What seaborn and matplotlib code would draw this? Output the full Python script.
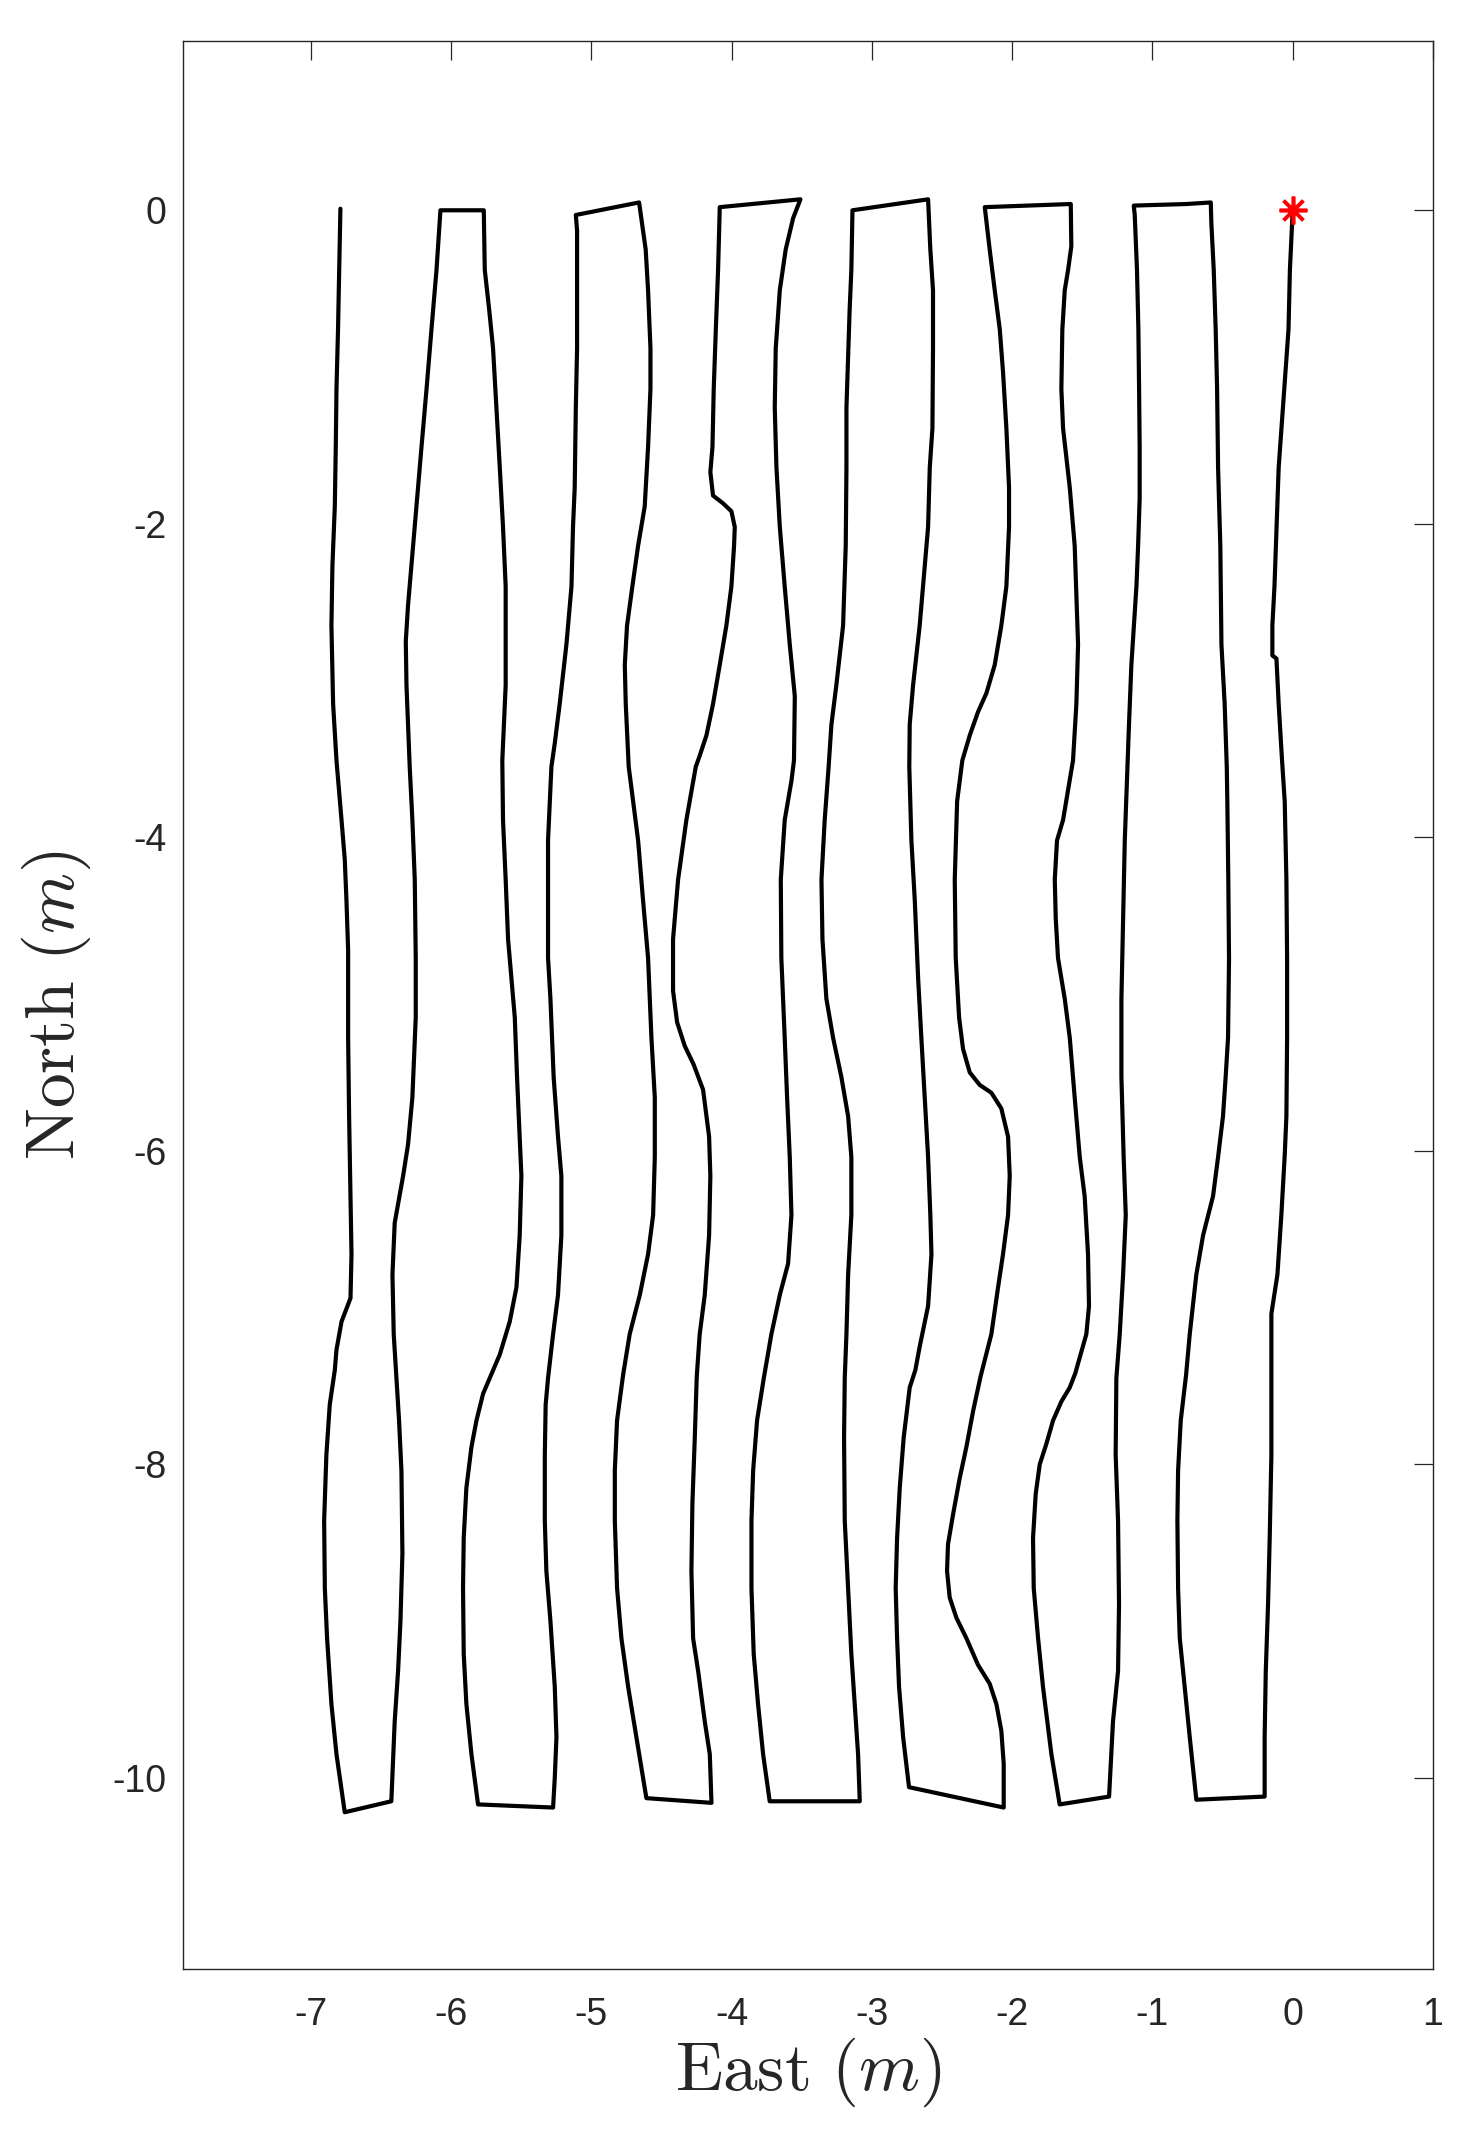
import numpy as np
import pandas as pd
import matplotlib
matplotlib.use("Agg")
import matplotlib.pyplot as plt
import seaborn as sns

# survey track, one list pair per pass (East, North in m)
leg01_e = [0.00, -0.02, -0.03, -0.06, -0.08, -0.10, -0.11, -0.12, -0.13, -0.145, -0.145, -0.116, -0.10, -0.076, -0.057, -0.045, -0.04, -0.04, -0.045, -0.057, -0.081, -0.109, -0.152, -0.152, -0.152, -0.164, -0.176, -0.192, -0.20, -0.20]
leg01_n = [0.00, -0.38, -0.76, -1.14, -1.39, -1.64, -1.89, -2.14, -2.40, -2.65, -2.84, -2.86, -3.15, -3.51, -3.77, -4.27, -4.77, -5.28, -5.78, -6.03, -6.41, -6.79, -7.04, -7.47, -7.94, -8.47, -8.90, -9.32, -9.74, -10.12]

leg02_e = [-0.687, -0.734, -0.77, -0.805, -0.817, -0.822, -0.817, -0.798, -0.76, -0.734, -0.687, -0.639, -0.568, -0.532, -0.497, -0.478, -0.461, -0.454, -0.459, -0.466, -0.47, -0.485, -0.508, -0.516, -0.532, -0.539, -0.549, -0.563, -0.58, -0.584]
leg02_n = [-10.14, -9.74, -9.42, -9.11, -8.79, -8.36, -8.04, -7.72, -7.43, -7.17, -6.79, -6.54, -6.29, -6.04, -5.78, -5.53, -5.28, -4.78, -4.27, -3.77, -3.55, -3.15, -2.77, -2.14, -1.64, -1.14, -0.76, -0.38, -0.08, 0.05]

leg03_e = [-0.758, -1.133, -1.126, -1.11, -1.10, -1.095, -1.091, -1.091, -1.102, -1.114, -1.15, -1.167, -1.178, -1.197, -1.209, -1.221, -1.221, -1.205, -1.19, -1.209, -1.233, -1.257, -1.262, -1.245, -1.238, -1.245, -1.281, -1.309]
leg03_n = [0.04, 0.03, -0.03, -0.38, -0.76, -1.14, -1.51, -1.84, -2.14, -2.40, -2.90, -3.28, -3.55, -4.02, -4.52, -5.03, -5.53, -6.04, -6.41, -6.79, -7.17, -7.45, -7.94, -8.36, -8.89, -9.32, -9.64, -10.12]

leg04_e = [-1.661, -1.72, -1.78, -1.815, -1.846, -1.851, -1.832, -1.803, -1.756, -1.708, -1.649, -1.589, -1.55, -1.471, -1.452, -1.459, -1.483, -1.518, -1.554, -1.589, -1.625, -1.673, -1.689, -1.696, -1.68, -1.637, -1.566, -1.542, -1.53, -1.554, -1.589, -1.637, -1.649, -1.642, -1.625, -1.601, -1.578, -1.582]
leg04_n = [-10.17, -9.85, -9.42, -9.11, -8.79, -8.47, -8.19, -8.00, -7.87, -7.72, -7.60, -7.51, -7.42, -7.17, -6.99, -6.66, -6.29, -6.04, -5.66, -5.28, -5.03, -4.77, -4.52, -4.27, -4.02, -3.89, -3.51, -3.15, -2.77, -2.14, -1.77, -1.39, -1.14, -0.76, -0.51, -0.38, -0.23, 0.04]

leg05_e = [-2.195, -2.16, -2.124, -2.088, -2.065, -2.041, -2.022, -2.022, -2.041, -2.077, -2.124, -2.183, -2.243, -2.302, -2.355, -2.392, -2.409, -2.402, -2.378, -2.35, -2.302, -2.231, -2.148, -2.077, -2.029, -2.017, -2.029, -2.065, -2.10, -2.148, -2.225, -2.278, -2.326, -2.374, -2.421, -2.457, -2.464, -2.445, -2.397, -2.326, -2.243, -2.16, -2.112, -2.077, -2.06, -2.06]
leg05_n = [0.02, -0.25, -0.51, -0.76, -1.03, -1.39, -1.77, -2.02, -2.40, -2.65, -2.90, -3.08, -3.20, -3.35, -3.51, -3.77, -4.27, -4.77, -5.15, -5.35, -5.50, -5.58, -5.63, -5.73, -5.91, -6.16, -6.41, -6.66, -6.87, -7.17, -7.44, -7.66, -7.89, -8.09, -8.32, -8.51, -8.68, -8.85, -8.98, -9.11, -9.28, -9.40, -9.53, -9.70, -9.91, -10.19]

leg06_e = [-2.735, -2.777, -2.806, -2.82, -2.83, -2.82, -2.801, -2.773, -2.73, -2.69, -2.659, -2.599, -2.575, -2.583, -2.599, -2.623, -2.647, -2.67, -2.694, -2.718, -2.733, -2.73, -2.706, -2.659, -2.623, -2.599, -2.587, -2.568, -2.564, -2.564, -2.583, -2.599]
leg06_n = [-10.06, -9.74, -9.42, -9.11, -8.79, -8.47, -8.15, -7.83, -7.51, -7.40, -7.25, -6.99, -6.66, -6.41, -6.04, -5.66, -5.28, -4.90, -4.40, -4.02, -3.55, -3.28, -3.03, -2.65, -2.27, -2.02, -1.64, -1.39, -0.88, -0.51, -0.25, 0.07]

leg07_e = [-3.138, -3.146, -3.158, -3.181, -3.181, -3.186, -3.205, -3.253, -3.288, -3.308, -3.336, -3.359, -3.352, -3.324, -3.276, -3.217, -3.169, -3.146, -3.146, -3.169, -3.181, -3.193, -3.198, -3.193, -3.169, -3.146, -3.122, -3.098, -3.086]
leg07_n = [0.00, -0.38, -0.63, -1.26, -1.64, -2.14, -2.65, -3.03, -3.28, -3.55, -3.89, -4.27, -4.65, -5.03, -5.28, -5.53, -5.78, -6.04, -6.41, -6.79, -7.17, -7.45, -7.83, -8.36, -8.79, -9.21, -9.53, -9.85, -10.15]

leg08_e = [-3.728, -3.775, -3.811, -3.842, -3.858, -3.858, -3.846, -3.818, -3.77, -3.716, -3.656, -3.597, -3.573, -3.585, -3.604, -3.621, -3.645, -3.649, -3.621, -3.573, -3.555, -3.549, -3.585, -3.621, -3.656, -3.68, -3.692, -3.685, -3.656, -3.614, -3.561, -3.509]
leg08_n = [-10.15, -9.85, -9.53, -9.21, -8.79, -8.36, -8.04, -7.72, -7.45, -7.17, -6.92, -6.72, -6.41, -6.04, -5.66, -5.28, -4.77, -4.27, -3.89, -3.64, -3.51, -3.10, -2.77, -2.40, -2.02, -1.64, -1.26, -0.88, -0.51, -0.25, -0.05, 0.07]

leg09_e = [-4.084, -4.096, -4.112, -4.127, -4.136, -4.151, -4.132, -4.06, -4.001, -3.977, -3.982, -4.001, -4.037, -4.084, -4.132, -4.179, -4.227, -4.255, -4.322, -4.381, -4.417, -4.417, -4.388, -4.334, -4.27, -4.203, -4.16, -4.151, -4.16, -4.191, -4.227, -4.248, -4.262, -4.279, -4.286, -4.274, -4.238, -4.191, -4.155, -4.143]
leg09_n = [0.02, -0.38, -0.76, -1.14, -1.51, -1.67, -1.82, -1.87, -1.92, -2.02, -2.14, -2.40, -2.65, -2.90, -3.15, -3.35, -3.48, -3.55, -3.89, -4.27, -4.65, -4.98, -5.18, -5.33, -5.45, -5.61, -5.91, -6.16, -6.54, -6.92, -7.17, -7.44, -7.83, -8.25, -8.68, -9.11, -9.32, -9.64, -9.85, -10.16]

leg10_e = [-4.607, -4.678, -4.737, -4.785, -4.816, -4.832, -4.832, -4.816, -4.773, -4.726, -4.654, -4.595, -4.559, -4.547, -4.547, -4.571, -4.595, -4.631, -4.666, -4.733, -4.754, -4.761, -4.745, -4.707, -4.666, -4.619, -4.595, -4.578, -4.578, -4.595, -4.612, -4.659]
leg10_n = [-10.13, -9.74, -9.42, -9.11, -8.79, -8.36, -8.04, -7.72, -7.43, -7.17, -6.92, -6.66, -6.41, -6.04, -5.66, -5.28, -4.77, -4.40, -4.02, -3.55, -3.15, -2.90, -2.65, -2.40, -2.14, -1.89, -1.51, -1.14, -0.88, -0.51, -0.25, 0.05]

leg11_e = [-5.11, -5.101, -5.101, -5.11, -5.118, -5.13, -5.141, -5.177, -5.225, -5.26, -5.284, -5.308, -5.308, -5.291, -5.268, -5.237, -5.213, -5.213, -5.237, -5.272, -5.308, -5.325, -5.331, -5.331, -5.32, -5.291, -5.26, -5.248, -5.26, -5.272]
leg11_n = [-0.03, -0.13, -0.88, -1.26, -1.77, -2.02, -2.40, -2.77, -3.15, -3.40, -3.55, -4.02, -4.77, -5.03, -5.53, -5.91, -6.16, -6.54, -6.92, -7.17, -7.45, -7.62, -7.94, -8.36, -8.68, -9.00, -9.42, -9.74, -10.00, -10.19]

leg12_e = [-5.807, -5.854, -5.89, -5.909, -5.914, -5.909, -5.89, -5.854, -5.818, -5.771, -5.70, -5.652, -5.581, -5.533, -5.51, -5.498, -5.51, -5.529, -5.545, -5.569, -5.593, -5.61, -5.629, -5.634, -5.61, -5.61, -5.629, -5.652, -5.676, -5.70, -5.728, -5.759, -5.766]
leg12_n = [-10.17, -9.85, -9.53, -9.21, -8.79, -8.47, -8.15, -7.89, -7.72, -7.55, -7.40, -7.30, -7.09, -6.87, -6.54, -6.16, -5.91, -5.53, -5.15, -4.90, -4.65, -4.27, -3.89, -3.51, -3.03, -2.40, -2.02, -1.64, -1.26, -0.88, -0.63, -0.38, 0.00]

leg13_e = [-6.075, -6.103, -6.139, -6.174, -6.21, -6.246, -6.282, -6.306, -6.322, -6.317, -6.306, -6.294, -6.275, -6.258, -6.251, -6.251, -6.263, -6.275, -6.306, -6.341, -6.401, -6.417, -6.408, -6.389, -6.37, -6.353, -6.346, -6.36, -6.377, -6.401, -6.425]
leg13_n = [0.00, -0.38, -0.76, -1.14, -1.51, -1.89, -2.27, -2.52, -2.75, -3.03, -3.28, -3.55, -3.89, -4.27, -4.77, -5.15, -5.40, -5.66, -5.96, -6.16, -6.46, -6.79, -7.17, -7.45, -7.72, -8.04, -8.57, -9.00, -9.32, -9.64, -10.15]

leg14_e = [-6.757, -6.816, -6.852, -6.883, -6.899, -6.904, -6.888, -6.864, -6.828, -6.816, -6.78, -6.716, -6.709, -6.716, -6.726, -6.733, -6.733, -6.745, -6.757, -6.78, -6.816, -6.84, -6.852, -6.845, -6.828, -6.821, -6.816, -6.805, -6.797, -6.788]
leg14_n = [-10.22, -9.85, -9.53, -9.11, -8.79, -8.36, -7.94, -7.62, -7.40, -7.27, -7.09, -6.94, -6.66, -6.29, -5.78, -5.28, -4.72, -4.40, -4.14, -3.89, -3.51, -3.15, -2.65, -2.27, -1.89, -1.51, -1.14, -0.76, -0.38, 0.01]

start_e = [0.0]
start_n = [0.0]

x_ticks = [-7, -6, -5, -4, -3, -2, -1, 0, 1]
y_ticks = [0, -2, -4, -6, -8, -10]

legs_e = [leg01_e, leg02_e, leg03_e, leg04_e, leg05_e, leg06_e, leg07_e,
          leg08_e, leg09_e, leg10_e, leg11_e, leg12_e, leg13_e, leg14_e]
legs_n = [leg01_n, leg02_n, leg03_n, leg04_n, leg05_n, leg06_n, leg07_n,
          leg08_n, leg09_n, leg10_n, leg11_n, leg12_n, leg13_n, leg14_n]

df = pd.DataFrame({'East': np.concatenate(legs_e), 'North': np.concatenate(legs_n)})

sns.set_style('white')
plt.rcParams['font.family'] = ['Liberation Sans', 'DejaVu Sans']
plt.rcParams['mathtext.fontset'] = 'cm'

W, H = 1472, 2129
fig = plt.figure(figsize=(W / 100, H / 100), dpi=100)
ax = fig.add_axes([183 / W, 1 - 1969 / H, (1433 - 183) / W, (1969 - 41) / H])

sns.lineplot(data=df, x='East', y='North', sort=False, estimator=None,
             color='black', linewidth=3.0, ax=ax)
ax.plot(start_e, start_n, linestyle='none', marker=(8, 2, 0), markersize=20,
        markeredgewidth=2.6, color='red')

ax.set_xlim(-7.91, 1.0)
ax.set_ylim(-11.22, 1.08)
ax.set_xticks(x_ticks)
ax.set_yticks(y_ticks)
ax.set_xticklabels([str(t) for t in x_ticks])
ax.set_yticklabels([str(t) for t in y_ticks])

for side in ['top', 'bottom', 'left', 'right']:
    ax.spines[side].set_visible(True)
    ax.spines[side].set_color('#262626')
    ax.spines[side].set_linewidth(1.0)

ax.tick_params(direction='in', length=14, width=0.9, color='#262626',
               labelsize=27, labelcolor='#262626', top=True, right=True)
ax.tick_params(axis='x', pad=20)
ax.tick_params(axis='y', pad=12)

ax.set_xlabel(r'$\mathrm{East}\ (m)$', fontsize=50, color='#262626', labelpad=2)
ax.set_ylabel(r'$\mathrm{North}\ (m)$', fontsize=50, color='#262626', labelpad=14)

fig.savefig('out.png', dpi=100, facecolor='white')
